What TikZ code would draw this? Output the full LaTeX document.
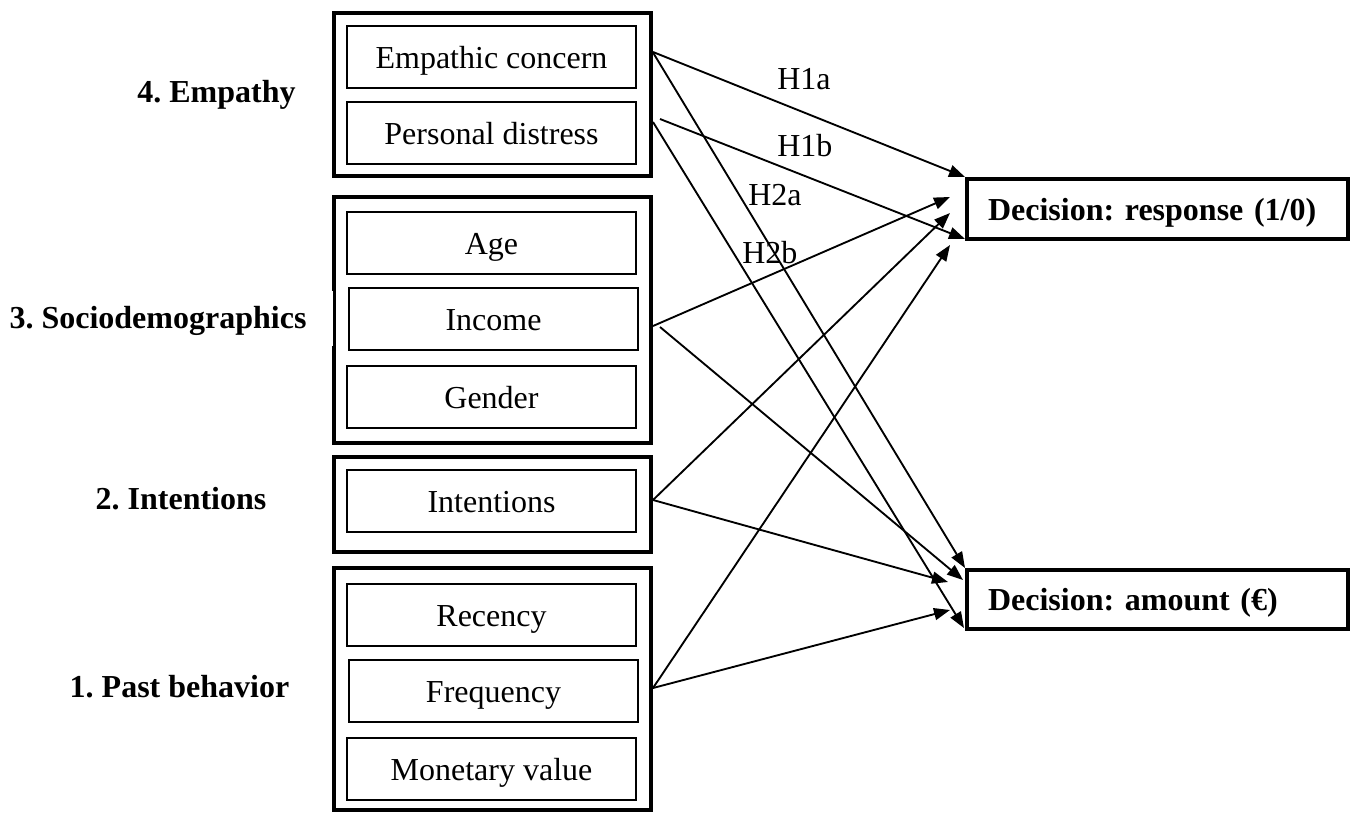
\documentclass[tikz,border=0pt]{standalone}
\usepackage{fontspec}
\setmainfont{Liberation Serif}
\usetikzlibrary{arrows.meta,calc}
\newdimen\pxu \pxu=0.75pt
\frenchspacing
\begin{document}
\frenchspacing
\begin{tikzpicture}[x=0.75pt,y=-0.75pt,
  outerbox/.style={draw,line width=3pt,inner sep=0pt,minimum width=317\pxu},
  innerbox/.style={draw,line width=1.3pt,minimum width=289\pxu,minimum height=62\pxu,inner sep=0pt,
    text height=17pt,text depth=0pt,font=\fontsize{24}{28}\selectfont},
  grouplabel/.style={font=\fontsize{24}{28}\selectfont\bfseries,anchor=base,inner sep=0pt},
  decbox/.style={draw,line width=3pt,minimum width=381\pxu,inner sep=0pt,text width=339\pxu,align=left,
    text height=17pt,text depth=0pt,font=\fontsize{24}{28}\selectfont\bfseries},
  link/.style={line width=1.4pt,-{Triangle[length=12pt,width=9pt]}},
  hyp/.style={font=\fontsize{24}{28}\selectfont,anchor=base west,inner sep=0pt}]
\useasboundingbox (0,0) rectangle (1356,813);

% outer group boxes
\node[outerbox,minimum height=163\pxu] (empbox) at (492.5,94.5) {};
\node[outerbox,minimum height=246\pxu] (sociobox) at (492.5,320) {};
\node[outerbox,minimum height=95\pxu] (intbox) at (492.5,504.5) {};
\node[outerbox,minimum height=242\pxu] (pastbox) at (492.5,689) {};
\fill[white] (331,291) rectangle (333.2,346);

% inner boxes
\node[innerbox] (ec) at (491.5,57) {Empathic concern};
\node[innerbox] (pd) at (491.5,133) {Personal distress};
\node[innerbox] (age) at (491.5,243) {Age};
\node[innerbox] (inc) at (493.5,319) {Income};
\node[innerbox] (gen) at (491.5,397) {Gender};
\node[innerbox] (int) at (491.5,501) {Intentions};
\node[innerbox] (rec) at (491.5,615) {Recency};
\node[innerbox] (freq) at (493.5,691) {Frequency};
\node[innerbox] (mon) at (491.5,769) {Monetary value};

% group labels
\node[grouplabel] (lemp) at (216.5,103) {4. Empathy};
\node[grouplabel] (lsoc) at (158,328) {3. Sociodemographics};
\node[grouplabel] (lint) at (181,509) {2. Intentions};
\node[grouplabel] (lpast) at (179.5,697) {1. Past behavior};

% decision boxes
\node[decbox,minimum height=60\pxu] (resp) at (1157.5,209) {Decision: response (1/0)};
\node[decbox,minimum height=59\pxu] (amt) at (1157.5,599.5) {Decision: amount (€)};

% connectors
\draw[link] ($(empbox.east)+(0,-42.5)$) -- (resp.north west);
\draw[link] ($(empbox.east)+(0,-42)$) -- (amt.north west);
\draw[link] ($(empbox.east)+(7,24.5)$) -- ($(resp.south west)+(0,-2)$);
\draw[link] ($(empbox.east)+(0,27.5)$) -- ($(amt.south west)+(-1,-3)$);
\draw[link] ($(sociobox.east)+(0,6)$) -- ($(resp.west)+(-15,-12)$);
\draw[link] ($(sociobox.east)+(7,7)$) -- ($(amt.west)+(-2,-19.5)$);
\draw[link] ($(intbox.east)+(0,-4.5)$) -- ($(resp.west)+(-15,4)$);
\draw[link] ($(intbox.east)+(0,-4.5)$) -- ($(amt.west)+(-17,-17.5)$);
\draw[link] ($(pastbox.east)+(0,-1)$) -- ($(resp.west)+(-15,36)$);
\draw[link] ($(pastbox.east)+(0,-1)$) -- ($(amt.west)+(-15,10.5)$);

% hypothesis labels
\node[hyp] (h1a) at (777,90) {H1a};
\node[hyp] (h1b) at (777,157) {H1b};
\node[hyp] (h2a) at (748,205) {H2a};
\node[hyp] (h2b) at (742,263) {H2b};
\end{tikzpicture}
\end{document}
